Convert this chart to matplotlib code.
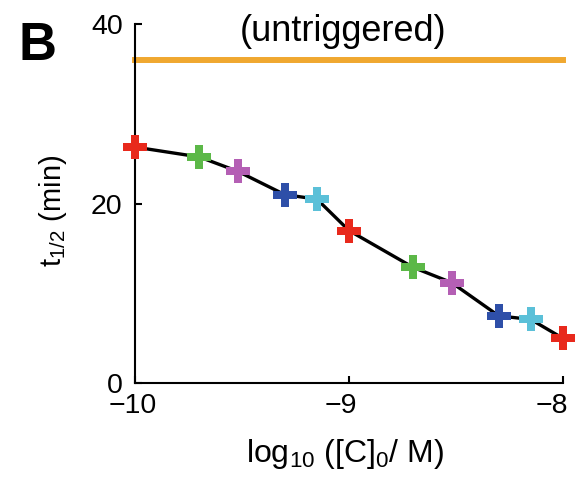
import matplotlib.pyplot as plt
from matplotlib.transforms import ScaledTranslation

plt.rcParams['font.family'] = ['Liberation Sans', 'DejaVu Sans']
plt.rcParams['mathtext.fontset'] = 'custom'
plt.rcParams['mathtext.rm'] = 'Liberation Sans'

log_conc = [-10.0, -9.70, -9.52, -9.30, -9.15, -9.0, -8.70, -8.52, -8.30, -8.15, -8.0]
t_half = [26.3, 25.2, 23.6, 21.0, 20.5, 17.0, 12.9, 11.2, 7.5, 7.1, 5.0]
colors = ['#e8291c', '#5cb848', '#b45fb4', '#2e4fa8', '#5bc0d8',
          '#e8291c', '#5cb848', '#b45fb4', '#2e4fa8', '#5bc0d8', '#e8291c']
untriggered = 36.0
x_ticks = [-10, -9, -8]
x_ticklabels = ['\u221210', '\u22129', '\u22128']
y_ticks = [0, 20, 40]

fig = plt.figure(figsize=(5.75, 4.82), dpi=100)
ax = fig.add_axes([0.235, 0.205, 0.744, 0.745])

ax.axhline(untriggered, color='#f0a830', lw=4.3, clip_on=False)
ax.plot(log_conc, t_half, '-', color='black', lw=2.4, zorder=2)
for x, y, c in zip(log_conc, t_half, colors):
    ax.plot(x, y, 'P', color=c, markersize=17, markeredgewidth=0, zorder=3, clip_on=False)

ax.set_xlim(-10, -8)
ax.set_ylim(0, 40)
ax.set_xticks(x_ticks)
ax.set_xticklabels(x_ticklabels)
ax.set_yticks(y_ticks)
for s in ['top', 'right']:
    ax.spines[s].set_visible(False)
for s in ['left', 'bottom']:
    ax.spines[s].set_linewidth(1.5)
ax.tick_params(direction='in', length=5, width=1.5, labelsize=20.5)
ax.tick_params(axis='x', pad=7)
ax.tick_params(axis='y', pad=9)

# x tick labels sit a bit left of their ticks in the original
for lab, dx in zip(ax.get_xticklabels(), [-2, -8, -11]):
    lab.set_transform(lab.get_transform() + ScaledTranslation(dx / 100, 0, fig.dpi_scale_trans))

ax.text(0.487, 0.98, '(untriggered)', transform=ax.transAxes, ha='center', va='center', fontsize=26)
ax.set_xlabel('log$_{\\mathrm{10}}$ ([C]$_{\\mathrm{0}}$/ M)', fontsize=23)
ax.xaxis.set_label_coords(0.49, -0.15)
ax.set_ylabel('t$_{\\mathrm{1/2}}$ (min)', fontsize=21)
ax.yaxis.set_label_coords(-0.155, 0.48)
fig.text(0.033, 0.876, 'B', fontsize=38, fontweight='bold', va='baseline')

plt.savefig('out.png')
